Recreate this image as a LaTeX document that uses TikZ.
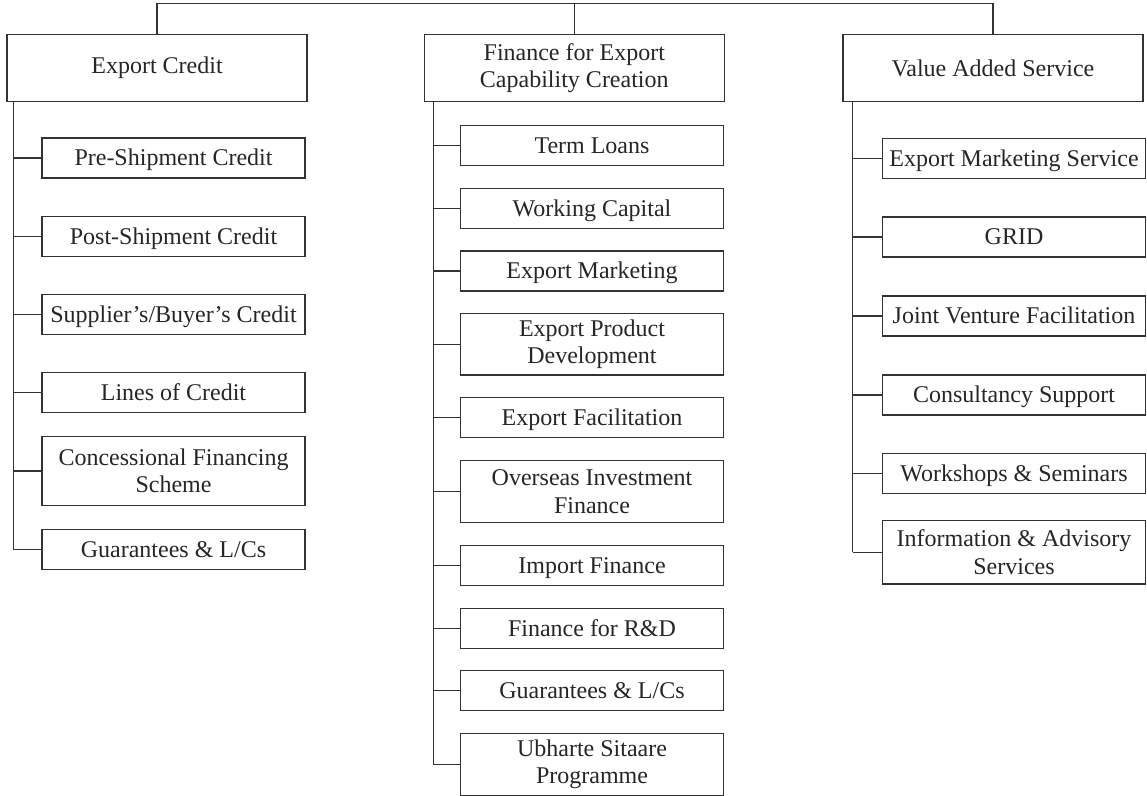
\documentclass[tikz,border=0pt]{standalone}
\usepackage{fontspec}
\setmainfont{Liberation Serif}
\begin{document}
\begin{tikzpicture}[x=0.5pt,y=-0.5pt,
  box/.style={draw=black!80, line width=0.6pt, inner sep=0pt, align=center,
    font=\fontsize{12}{13.7}\selectfont, text=black!85},
  one/.style={text height=10.94pt, text depth=3pt},
  two/.style={text height=, text depth=},
  head/.style={box, minimum width=150pt, minimum height=33.7pt},
  lchild/.style={box, one, minimum width=131.5pt, minimum height=20pt},
  child/.style={box, one, minimum width=131.3pt, minimum height=20pt},
  link/.style={draw=black!80, line width=0.6pt}]
\useasboundingbox (0,0) rectangle (1147,796);
% heads
\node[head] (ec) at (157,68) {Export Credit};
\node[head] (fe) at (574.3,68) {Finance for Export\\Capability Creation};
\node[head] (va) at (993,68) {Value Added Service};
% left
\node[lchild] (a1) at (173.5,158) {Pre-Shipment Credit};
\node[lchild] (a2) at (173.5,236.2) {Post-Shipment Credit};
\node[lchild] (a3) at (173.5,314.5) {Supplier’s/Buyer’s Credit};
\node[lchild] (a4) at (173.5,392.9) {Lines of Credit};
\node[lchild, two, minimum height=34.3pt] (a5) at (173.5,471) {Concessional Financing\\Scheme};
\node[lchild] (a6) at (173.5,549.3) {Guarantees \& L/Cs};
% middle
\node[child] (b1) at (592,145.7) {Term Loans};
\node[child] (b2) at (592,208.3) {Working Capital};
\node[child] (b3) at (592,271) {Export Marketing};
\node[child, two, minimum height=30.7pt] (b4) at (592,344.3) {Export Product\\Development};
\node[child] (b5) at (592,417.7) {Export Facilitation};
\node[child, two, minimum height=31.2pt] (b6) at (592,491.5) {Overseas Investment\\Finance};
\node[child] (b7) at (592,565.7) {Import Finance};
\node[child] (b8) at (592,628.3) {Finance for R\&D};
\node[child] (b9) at (592,690.7) {Guarantees \& L/Cs};
\node[child, two, minimum height=31.2pt] (b10) at (592,764.5) {Ubharte Sitaare\\Programme};
% right
\node[child] (c1) at (1014,158.3) {Export Marketing Service};
\node[child] (c2) at (1014,237) {GRID};
\node[child] (c3) at (1014,316) {Joint Venture Facilitation};
\node[child] (c4) at (1014,395) {Consultancy Support};
\node[child] (c5) at (1014,473.3) {Workshops \& Seminars};
\node[child, two, minimum height=31.7pt] (c6) at (1014,552.3) {Information \& Advisory\\Services};
% top connector
\coordinate (top) at (575,3.5);
\draw[link] (ec.north) |- (top) -| (va.north);
\draw[link] (fe.north) -- (fe.north |- top);
% spines
\coordinate (sa) at (13.3,101.7);
\coordinate (sb) at (433.7,101.7);
\coordinate (sc) at (852.7,101.7);
\draw[link] (sa) -- (sa |- a6.west);
\draw[link] (sb) -- (sb |- b10.west);
\draw[link] (sc) -- (sc |- c6.west);
\foreach \n in {a1,a2,a3,a4,a5,a6} \draw[link] (sa |- \n.west) -- (\n.west);
\foreach \n in {b1,b2,b3,b4,b5,b6,b7,b8,b9,b10} \draw[link] (sb |- \n.west) -- (\n.west);
\foreach \n in {c1,c2,c3,c4,c5,c6} \draw[link] (sc |- \n.west) -- (\n.west);
\end{tikzpicture}
\end{document}
